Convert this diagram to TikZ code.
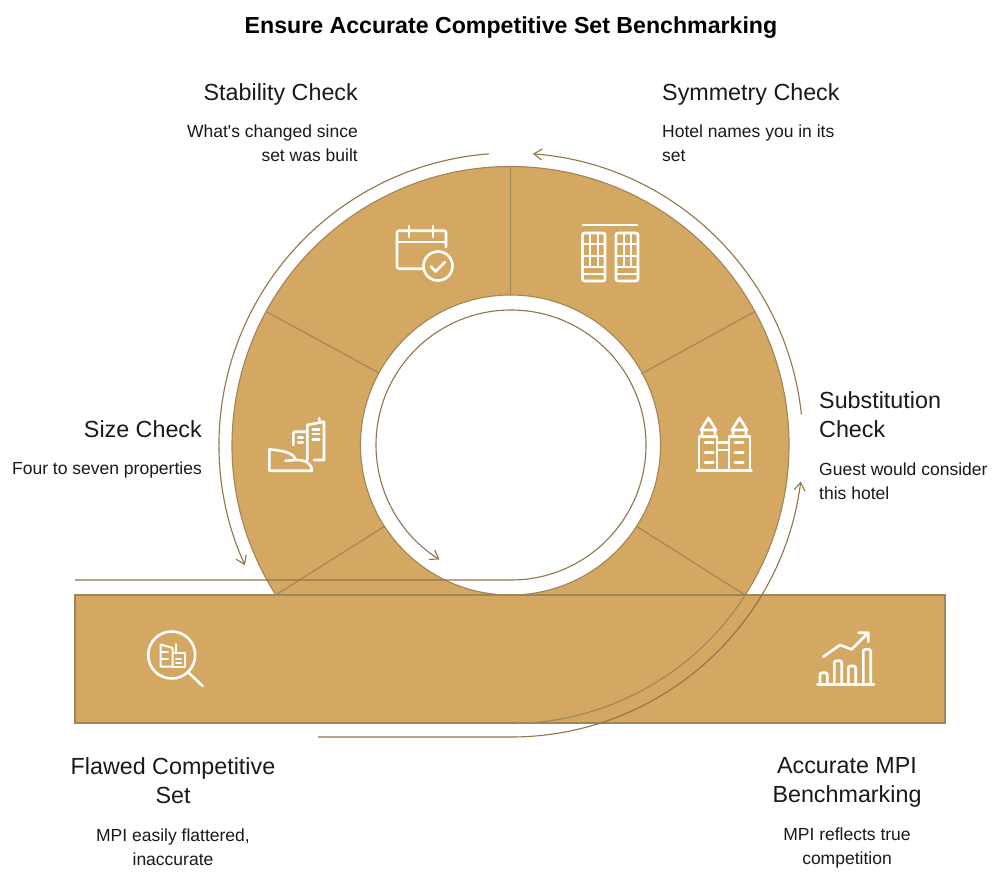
\documentclass[tikz,border=0pt]{standalone}
\usepackage{fontspec}
\setmainfont{Liberation Sans}
\newfontfamily\plainsans{Liberation Sans}
\usetikzlibrary{arrows.meta,calc}
\definecolor{band}{HTML}{D4A762}
\definecolor{edge}{HTML}{A08656}
\definecolor{guide}{HTML}{8F7548}
\tikzset{
  head/.style={font=\fontsize{23.3}{29}\selectfont,inner sep=0pt,text=black!90},
  body/.style={font=\fontsize{17.5}{24}\selectfont,inner sep=0pt,text=black!90},
  guideline/.style={draw=guide,line width=1.1pt},
  arrowed/.style={guideline,-{Straight Barb[length=8pt,width=11pt,line width=1.1pt]}},
  divider/.style={draw=edge,line width=1.1pt},
  icon/.style={draw=white,line width=2.6pt,line cap=round,line join=round,fill=none},
  iconthin/.style={icon,line width=2pt},
}
\begin{document}
\begin{tikzpicture}[x=1pt,y=1pt,yscale=-1]
\useasboundingbox (0,0) rectangle (1000,875);
\coordinate (c) at (510.5,445);
% fills
\fill[band] (75,595) rectangle (945,723);
\fill[band,even odd rule] (c) circle[radius=278.5] (c) circle[radius=150];
% outlines
\draw[edge,line width=1.4pt] (75,595) rectangle (945,723);
\draw[divider] (c) ++(147.41:278.5) arc[radius=278.5,start angle=147.41,end angle=450];
\draw[divider] (c) circle[radius=150];
\draw[divider] (c) ++(270:278.5) -- ($(c)+(270:150)$);
\draw[divider] (754,312) -- (641,374);
\draw[divider] (745,595) -- (636,526);
\draw[divider] (267,312) -- (379,373);
\draw[divider] (275.7,595) -- (385,526);
% guides
\coordinate (gi) at (75,580);
\coordinate (go) at (318,737);
\draw[arrowed] (gi) -- (511,580) arc[radius=135,start angle=90,end angle=-238];
\draw[arrowed] (go) -- (511,737) arc[radius=292,start angle=90,end angle=7.2];
\draw[arrowed] (511,445) ++(-6:292) arc[radius=292,start angle=-6,end angle=-85.7];
\draw[arrowed] (511,445) ++(-94.3:292) arc[radius=292,start angle=-94.3,end angle=-204.3];
% calendar
\draw[icon] (422,268.7) -- (399,268.7) arc[radius=2,start angle=90,end angle=180] -- (397,232.7) arc[radius=2,start angle=180,end angle=270] -- (444,230.7) arc[radius=2,start angle=270,end angle=360] -- (446,247);
\draw[icon] (397,242) -- (446,242) (409,226) -- (409,237) (433,226) -- (433,237);
\draw[icon] (438,266) circle[radius=14.5];
\draw[icon] (431,266.5) -- (435.5,271.5) -- (445,262);
% twin slabs
\draw[icon] (583,225) -- (637,225);
\draw[icon,rounded corners=2pt] (582.5,233) rectangle (605,281);
\draw[icon,rounded corners=2pt] (616,233) rectangle (638,281);
\draw[iconthin] (590,233) -- (590,267) (597.5,233) -- (597.5,267) (623.5,233) -- (623.5,267) (631,233) -- (631,267);
\draw[iconthin] (582.5,244) -- (605,244) (582.5,255.5) -- (605,255.5) (582.5,267) -- (605,267) (582.5,273.5) -- (605,273.5);
\draw[iconthin] (616,244) -- (638,244) (616,255.5) -- (638,255.5) (616,267) -- (638,267) (616,273.5) -- (638,273.5);
% size
\draw[icon] (307.3,460) -- (307.3,425) -- (324,421.7) -- (324,460) -- (314,460) (319.3,418.3) -- (319.3,421.7);
\draw[icon] (312.7,429.3) -- (319.3,429.3) (312.7,434) -- (319.3,434) (312.7,439.3) -- (319.3,439.3);
\draw[icon] (293.3,445) -- (293.3,433) -- (295,431.7) -- (306.7,431.7);
\draw[icon] (298.3,437.3) -- (302.7,437.3) (298.3,442.7) -- (302.7,442.7);
\draw[icon] (269.3,449.3) -- (269.3,470.7) -- (311.7,470.7) .. controls (312,463) and (305,460) .. (296,460) -- (285.5,460.7) (296,460) .. controls (294,454) and (287,451) .. (269.3,449.3);
% towers
\draw[icon] (699,470.7) -- (699,436.7) -- (717,436.7) -- (717,470.7);
\draw[icon] (729,470.7) -- (729,436.7) -- (750,436.7) -- (750,470.7);
\draw[icon] (697,470.7) -- (751.5,470.7);
\draw[icon] (701,430) -- (708.5,418) -- (716,430) -- cycle (702,430) -- (702,436.7) (715,430) -- (715,436.7);
\draw[icon] (732,430) -- (739.5,418) -- (747,430) -- cycle (733,430) -- (733,436.7) (746,430) -- (746,436.7);
\draw[icon] (717,442.7) -- (729,442.7) (717,450) -- (729,450);
\draw[icon] (705,442.7) -- (713.3,442.7) (705,452.7) -- (713.3,452.7) (705,462.7) -- (713.3,462.7);
\draw[icon] (735,442.7) -- (743.3,442.7) (735,452.7) -- (743.3,452.7) (735,462.7) -- (743.3,462.7);
% magnifier
\draw[icon] (171.7,655) circle[radius=23.5];
\draw[icon] (189.3,673.3) -- (202.7,686);
\draw[iconthin] (160.7,666.7) -- (160.7,644.5) -- (172.7,648) -- (172.7,666.7) -- cycle;
\draw[iconthin] (172.7,653) -- (176,653) -- (176,644) (176,653) -- (184.7,653) -- (184.7,666.7) -- (172.7,666.7);
\draw[iconthin] (161,652) -- (168,652) (161,659) -- (168,659) (176,659) -- (181,659) (176,663) -- (181,663);
% chart
\draw[icon] (817.5,684.5) -- (874,684.5);
\draw[icon,rounded corners=2pt] (820,684.5) -- (820,672.7) -- (827.3,672.7) -- (827.3,684.5);
\draw[icon,rounded corners=2pt] (834.3,684.5) -- (834.3,660.7) -- (841.7,660.7) -- (841.7,684.5);
\draw[icon,rounded corners=2pt] (848.3,684.5) -- (848.3,666) -- (855.7,666) -- (855.7,684.5);
\draw[icon,rounded corners=2pt] (863.3,684.5) -- (863.3,649.3) -- (870.7,649.3) -- (870.7,684.5);
\draw[icon] (823.3,656.7) -- (840,645) -- (851.7,649.3) -- (868.3,632.7) (858.3,632.7) -- (868.3,632.7) -- (868.3,641.7);
% text
\node[inner sep=0pt,anchor=center,font=\bfseries\fontsize{23.15}{28}\selectfont] (title) at (511,28) {Ensure Accurate Competitive Set Benchmarking};
\node[head,anchor=east] (stabh) at (358,94) {Stability Check};
\node[body,anchor=east,align=right] (stabb) at (358,143.5) {{\plainsans What's} changed since\\set was built};
\node[head,anchor=west] (symh) at (662,94) {Symmetry Check};
\node[body,anchor=west,align=left] (symb) at (662,143.5) {Hotel names you in its\\set};
\node[head,anchor=west,align=left] (subh) at (819,415) {Substitution\\Check};
\node[body,anchor=west,align=left] (subb) at (819,481) {Guest would consider\\this hotel};
\node[head,anchor=east] (sizeh) at (202,429) {Size Check};
\node[body,anchor=east] (sizeb) at (202,469.5) {Four to seven properties};
\node[head,align=center] (flawh) at (173,781) {Flawed Competitive\\Set};
\node[body,align=center] (flawb) at (173,847) {MPI easily flattered,\\inaccurate};
\node[head,align=center] (acch) at (847,782.5) {Accurate MPI\\Benchmarking};
\node[body,align=center] (accb) at (847,847.5) {MPI reflects true\\competition};
\end{tikzpicture}
\end{document}
